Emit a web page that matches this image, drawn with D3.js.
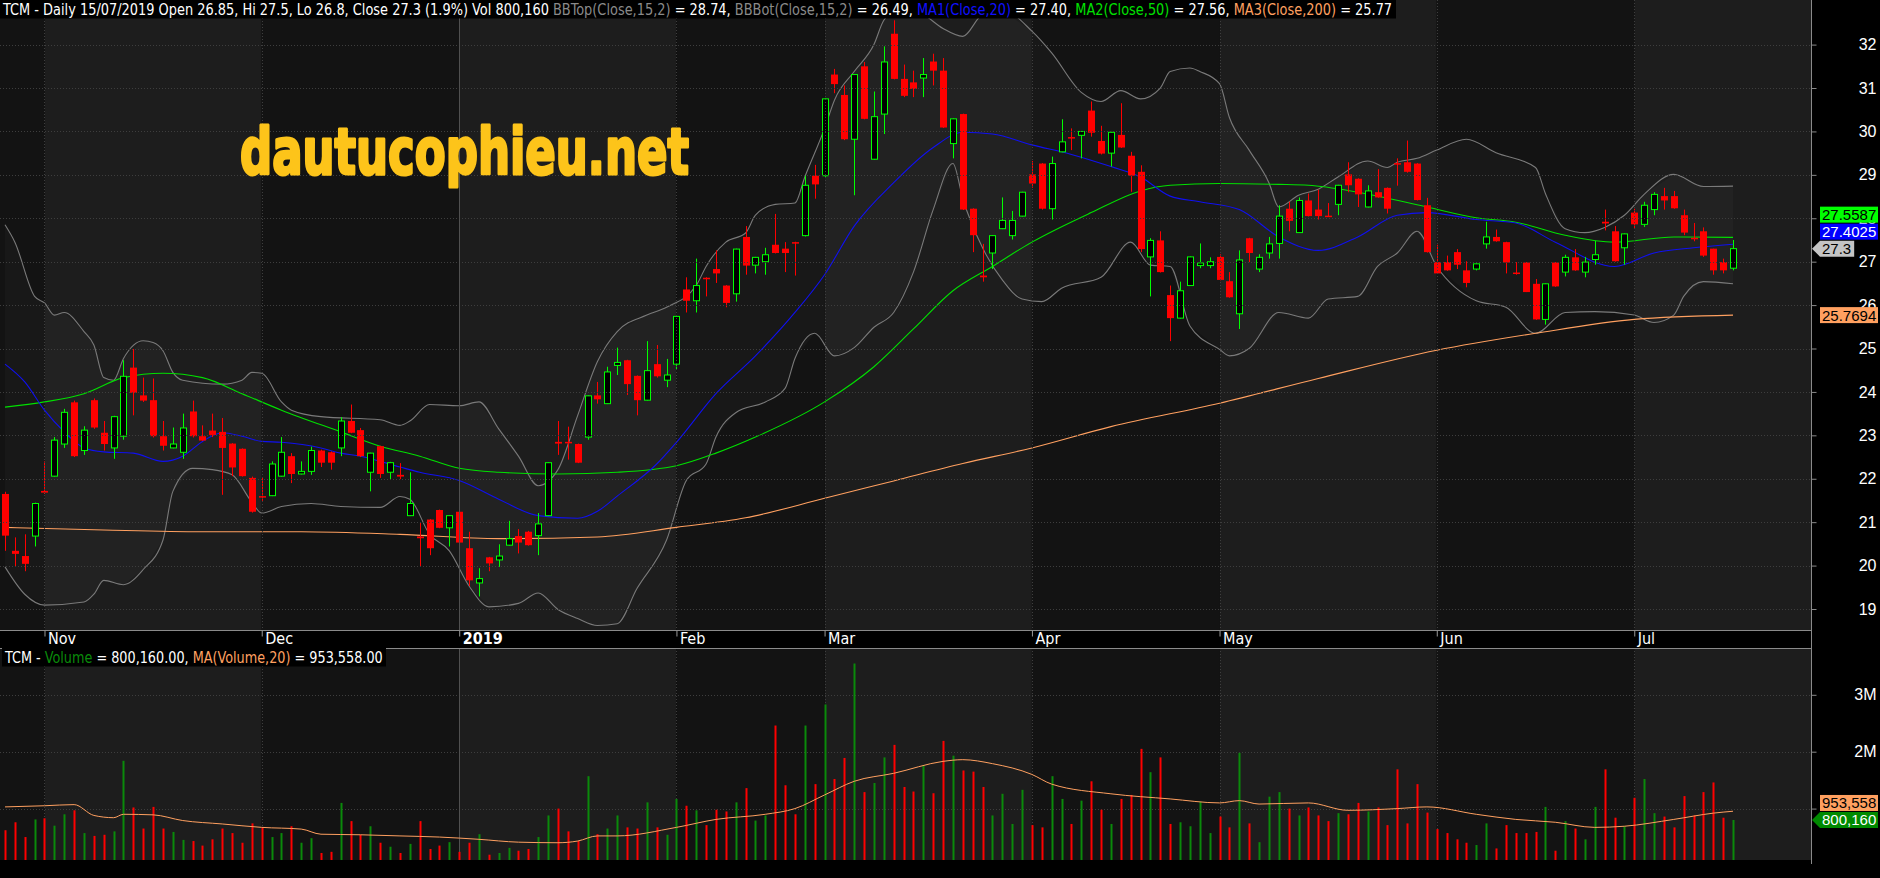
<!DOCTYPE html>
<html>
<head>
<meta charset="utf-8">
<script src="https://cdn.jsdelivr.net/npm/d3@7"></script>
<style>
body { margin: 0; background: #000; }
svg { display: block; }
.nar { font-family: "Liberation Sans Narrow", "Arial Narrow", "DejaVu Sans Condensed", sans-serif; }
.reg { font-family: "Liberation Sans", Arial, sans-serif; }
</style>
</head>
<body>
<div id="chart"></div>
<script>
// months on the time axis, trading days in each, days of Oct shown before Nov
var monthLabels = ["Nov", "Dec", "2019", "Feb", "Mar", "Apr", "May", "Jun", "Jul"];
var monthDays = [22, 20, 22, 15, 21, 19, 22, 20, 11];
var leadDays = 4;

// daily OHLC
var openPx = [21.65,20.34,20.22,20.68,21.72,22.06,22.80,23.76,22.65,23.81,23.06,22.71,22.98,24.56,23.92,23.81,22.98,22.71,22.61,23.55,
  22.98,23.11,23.08,22.81,22.69,22.02,21.60,21.61,22.06,22.52,22.11,22.17,22.65,22.61,22.71,23.33,23.12,22.15,22.75,22.15,
  22.09,21.15,20.67,21.06,21.28,20.87,21.24,20.40,19.60,20.19,20.13,20.47,20.68,20.78,20.69,21.15,22.85,22.85,22.80,22.96,
  23.92,23.73,24.61,24.73,24.37,23.81,24.64,24.27,24.64,26.36,26.10,26.63,26.83,26.45,26.26,27.57,26.92,27.00,27.39,27.30,
  27.45,27.60,28.98,28.98,31.31,30.84,29.82,31.50,29.36,30.40,32.25,31.21,31.13,31.23,31.61,31.40,29.72,30.40,28.22,26.68,
  27.20,27.76,27.60,28.05,29.01,29.26,28.22,29.53,29.87,29.91,30.48,29.78,29.50,29.92,29.44,29.07,27.11,27.49,26.23,25.70,
  26.45,26.91,26.91,27.11,26.55,25.80,27.54,26.83,27.20,27.42,28.22,27.67,28.41,28.20,28.06,28.32,29.01,28.91,28.26,28.60,
  28.70,29.27,29.29,29.26,28.30,26.99,26.99,27.22,26.80,26.83,27.41,27.57,27.45,26.75,26.98,26.49,25.67,26.98,26.76,27.10,
  26.76,27.05,27.92,27.70,27.32,28.13,27.86,28.20,28.51,28.51,28.07,27.55,27.70,27.30,26.99,26.85];
var highPx = [21.70,20.65,20.72,21.45,22.40,22.96,23.61,23.80,23.21,23.85,23.33,23.45,24.73,24.99,24.33,24.31,23.33,23.18,23.50,23.80,
  23.23,23.50,23.40,22.82,22.70,22.05,22.02,22.40,22.96,22.59,22.40,22.74,22.67,22.63,23.42,23.71,23.17,22.60,22.76,22.39,
  22.36,22.15,21.00,21.07,21.29,21.16,21.25,20.78,19.94,20.20,20.49,21.03,20.84,20.80,21.21,22.38,23.33,23.20,22.81,23.92,
  24.23,24.58,25.02,24.74,24.38,25.17,25.08,24.76,25.75,26.64,27.07,26.64,27.26,26.46,27.30,27.82,27.11,27.32,28.10,27.45,
  27.46,28.98,29.23,30.76,31.44,31.06,31.32,31.60,30.92,31.96,32.56,31.54,31.40,31.69,31.79,31.69,30.30,30.41,28.23,27.41,
  27.61,28.48,28.17,28.61,29.32,29.27,29.42,30.28,30.07,30.01,30.69,30.13,29.99,30.65,29.53,29.22,27.54,27.70,26.45,26.54,
  27.12,27.42,27.10,27.17,26.76,27.26,27.55,27.17,27.57,28.30,28.38,28.48,28.57,28.66,28.35,28.77,29.29,28.92,28.76,29.13,
  28.71,29.38,29.79,29.27,28.47,27.39,27.14,27.29,27.01,26.96,27.92,27.74,27.46,26.99,26.99,26.60,26.50,26.99,27.16,27.29,
  27.11,27.48,28.20,27.82,27.65,28.22,28.38,28.60,28.70,28.63,28.20,27.89,27.79,27.30,27.07,27.50];
var lowPx = [20.34,19.97,19.87,20.44,21.65,22.05,22.71,22.50,22.55,23.15,22.65,22.46,22.90,23.46,23.77,22.95,22.65,22.70,22.46,22.95,
  22.87,22.96,21.63,22.06,22.05,21.22,21.49,21.60,22.05,21.90,22.10,22.09,22.27,22.21,22.52,23.05,22.50,21.71,22.02,21.99,
  21.99,21.14,19.97,20.24,20.86,20.44,20.52,19.53,19.29,19.87,19.97,20.46,20.28,20.46,20.24,21.14,22.55,22.44,22.36,22.90,
  23.73,23.72,24.39,23.93,23.46,23.80,24.33,24.11,24.52,25.83,25.83,26.20,26.51,25.95,26.08,26.70,26.73,26.70,27.19,26.76,
  26.68,27.58,28.45,28.95,30.88,29.80,28.53,30.28,29.35,29.94,31.20,30.79,30.79,30.79,31.06,30.08,29.38,28.19,27.22,26.54,
  26.83,27.75,27.51,28.04,28.70,28.20,27.97,29.52,29.57,29.38,29.88,29.47,29.19,29.62,28.61,27.22,26.20,26.75,25.17,25.69,
  26.44,26.85,26.85,26.57,26.17,25.45,26.99,26.76,27.07,27.07,27.70,27.66,28.04,27.97,28.03,28.07,28.60,28.26,28.25,28.47,
  28.11,28.75,29.05,28.41,27.21,26.72,26.79,26.83,26.41,26.80,27.30,27.46,26.73,26.70,26.30,25.66,25.55,26.42,26.66,26.79,
  26.64,26.93,27.72,27.00,26.93,27.76,27.80,28.07,28.20,28.22,27.61,27.47,27.11,26.70,26.73,26.80];
var closePx = [20.69,20.27,20.04,21.43,21.68,22.89,23.53,22.52,23.12,23.18,22.80,23.43,24.36,23.98,23.80,22.98,22.76,22.80,23.17,22.98,
  22.88,23.01,22.71,22.26,22.06,21.24,21.57,22.34,22.61,22.11,22.17,22.65,22.37,22.37,23.33,23.06,22.52,22.59,22.11,22.37,
  22.05,21.43,20.63,20.40,20.87,21.15,20.53,19.66,19.70,20.05,20.22,20.62,20.53,20.47,20.96,22.37,22.81,22.82,22.37,23.91,
  23.83,24.46,24.68,24.18,23.81,24.49,24.36,24.39,25.74,26.10,26.45,26.60,26.73,26.05,27.29,26.91,27.10,27.16,27.20,27.20,
  27.43,28.76,28.78,30.75,31.09,29.82,31.31,30.29,30.34,31.60,31.21,30.82,30.98,31.31,31.40,30.09,30.29,28.20,27.61,26.64,
  27.60,27.95,27.95,28.60,28.80,28.22,29.26,29.76,29.84,30.00,29.97,29.49,29.98,29.63,28.98,27.29,27.49,26.76,25.70,26.33,
  27.11,26.97,27.00,26.58,26.18,27.04,27.20,27.10,27.41,28.05,27.94,28.41,28.05,28.05,28.04,28.76,28.76,28.55,28.63,28.48,
  28.22,29.24,29.07,28.42,27.22,26.73,26.80,26.93,26.51,26.95,27.57,27.47,26.98,26.74,26.30,25.67,26.49,26.43,27.10,26.80,
  26.99,27.16,27.88,27.01,27.64,27.86,28.30,28.55,28.41,28.23,27.67,27.53,27.14,26.80,26.80,27.30];
var volume = [620000,760000,500000,810000,830000,700000,900000,970000,570000,520000,540000,600000,1840000,1020000,650000,1030000,650000,590000,450000,430000,
  350000,460000,650000,570000,400000,740000,670000,500000,570000,690000,400000,480000,220000,240000,1100000,780000,540000,690000,400000,330000,
  220000,380000,780000,290000,350000,410000,240000,400000,550000,190000,220000,310000,260000,290000,500000,880000,1000000,600000,430000,1570000,
  550000,650000,880000,670000,650000,1110000,670000,540000,1170000,1050000,970000,710000,980000,950000,1110000,1360000,790000,880000,2460000,1410000,
  900000,2460000,1430000,2830000,1520000,1890000,3550000,1290000,1450000,1900000,2120000,1380000,1300000,1760000,1270000,2190000,1930000,1670000,1650000,1380000,
  880000,1260000,730000,1330000,710000,670000,1570000,1170000,730000,1140000,1480000,980000,730000,1170000,1240000,2050000,1640000,1900000,730000,760000,
  690000,1120000,570000,860000,670000,1980000,740000,410000,1210000,1290000,1000000,880000,1020000,880000,780000,920000,900000,1100000,950000,1020000,
  710000,1690000,740000,1430000,930000,640000,570000,460000,400000,360000,740000,300000,710000,570000,570000,590000,1030000,260000,780000,650000,
  460000,1030000,1690000,840000,690000,1190000,1520000,920000,860000,670000,1220000,880000,1290000,1460000,840000,800160];

// indicator lines, sampled at trading-day index
var ma20Idx = [0,2,4,6,8,10,13,16,18,20,22,24,26,28,32,34,36,40,42,46,50,54,58,60,62,66,68,72,76,80,83,86,90,94,97,100,104,108,112,115,118,121,125,129,133,137,141,144,149,153,157,163,167,171,175];
var ma20Val = [24.64,24.23,23.58,23.08,22.71,22.62,22.59,22.40,22.52,22.86,23.06,22.98,22.86,22.84,22.71,22.59,22.52,22.27,22.15,21.96,21.53,21.15,21.09,21.25,21.60,22.34,22.84,23.96,24.83,25.83,26.70,27.82,28.82,29.63,29.98,29.94,29.69,29.47,29.19,28.95,28.51,28.38,28.20,27.57,27.26,27.57,28.07,28.13,27.97,27.89,27.45,26.89,27.20,27.32,27.4025];
var ma50Idx = [0,4,8,12,16,20,24,28,34,38,42,46,50,56,62,68,72,76,83,88,92,96,100,104,110,115,118,123,129,132,137,144,149,153,158,163,169,175];
var ma50Val = [23.65,23.77,23.96,24.33,24.43,24.33,23.96,23.58,23.08,22.75,22.52,22.24,22.15,22.11,22.15,22.30,22.59,22.96,23.77,24.58,25.45,26.33,26.89,27.45,28.13,28.63,28.76,28.80,28.78,28.76,28.60,28.26,28.01,27.91,27.61,27.45,27.57,27.5587];
var ma200Idx = [0,10,20,30,40,50,60,68,75,83,90,97,104,112,123,133,145,155,165,175];
var ma200Val = [20.88,20.82,20.78,20.78,20.72,20.62,20.66,20.88,21.10,21.55,21.95,22.35,22.71,23.20,23.74,24.31,24.96,25.35,25.67,25.7694];
var bbTopIdx = [0,1,3,4,5,6,8,9,10,11,12,14,15,16,17,18,22,24,25,26,28,29,32,38,40,41,43,46,48,50,52,54,56,58,60,62,65,67,70,71,73,75,76,78,80,81,83,84,86,88,89,91,93,95,97,99,101,104,106,109,111,113,115,117,118,120,121,123,124,126,128,129,131,133,135,138,140,141,143,145,148,151,155,156,158,160,162,164,166,169,172,175];
var bbTopVal = [27.85,27.45,26.20,26.05,25.77,25.83,25.39,25.08,24.33,24.27,24.77,25.18,25.14,24.95,24.45,24.27,24.18,24.27,24.45,24.43,23.77,23.58,23.43,23.36,23.23,23.33,23.71,23.68,23.77,23.15,22.52,21.84,22.21,23.46,24.70,25.39,25.77,25.95,26.45,26.89,27.45,27.66,28.07,28.32,28.35,28.95,30.07,30.72,31.38,32.00,32.56,32.90,32.70,32.37,32.19,32.70,32.80,32.31,31.81,30.90,30.69,30.94,30.75,31.00,31.38,31.46,31.38,31.10,30.32,29.57,28.82,28.26,28.53,28.67,28.95,29.32,29.17,29.29,29.38,29.57,29.82,29.51,29.17,28.57,27.76,27.67,27.79,28.07,28.55,29.01,28.73,28.74];
var bbBotIdx = [0,2,4,8,9,10,12,14,16,17,19,21,23,25,26,28,31,34,38,40,41,43,45,47,49,52,54,56,58,60,62,64,67,69,71,72,74,77,79,80,82,84,86,88,90,92,94,96,97,99,101,103,105,107,111,114,116,118,120,123,124,126,129,132,134,137,139,141,143,145,149,152,155,158,161,165,167,169,170,172,175];
var bbBotVal = [19.97,19.34,19.09,19.16,19.34,19.66,19.56,19.91,20.59,21.71,22.24,22.21,22.09,21.46,21.21,21.36,21.43,21.36,21.34,21.59,21.53,20.72,20.34,19.53,19.05,19.13,19.37,18.99,18.78,18.62,18.66,19.47,20.59,21.96,22.34,22.96,23.52,23.77,24.08,24.77,25.35,24.83,25.02,25.49,25.83,26.76,28.20,29.26,28.45,27.32,26.58,26.14,26.08,26.39,26.64,27.45,26.92,26.89,25.52,24.98,24.83,25.00,25.83,25.70,26.14,26.20,26.89,27.20,27.70,26.89,26.10,25.95,25.35,25.83,25.85,25.77,25.60,25.77,26.20,26.54,26.49];
var volMaIdx = [0,4,7,9,11,12,15,18,22,26,30,32,36,40,44,48,52,56,58,60,62,68,72,77,80,83,86,90,95,97,100,104,106,112,118,123,125,127,132,136,141,144,149,153,157,161,164,169,173,175];
var volMaVal = [1030000,1050000,1070000,880000,840000,900000,890000,790000,730000,670000,640000,550000,540000,520000,500000,460000,410000,400000,430000,520000,520000,670000,810000,900000,1000000,1240000,1480000,1620000,1830000,1860000,1790000,1600000,1430000,1260000,1170000,1100000,1140000,1080000,1100000,970000,1000000,1030000,900000,810000,760000,670000,690000,810000,920000,953558];

var yTicks = [19,20,21,22,23,24,25,26,27,28,29,30,31,32];
var volTicks = [1000000, 2000000, 3000000];

CandleChart = function(parentId) {
    var vis = this;
    vis.parentId = parentId;
    vis.initVis();
}

CandleChart.prototype.initVis = function() {
    var vis = this;

    vis.width = 1880;
    vis.height = 878;
    vis.plotRight = 1811;
    vis.priceBottom = 630;
    vis.axisBottom = 648;
    vis.volBottom = 860;

    vis.svg = d3.select(vis.parentId)
        .append("svg")
        .attr("width", vis.width)
        .attr("height", vis.height);

    vis.svg.append("rect")
        .attr("width", vis.width)
        .attr("height", vis.height)
        .attr("fill", "#000");

    vis.x = d3.scaleLinear().domain([0, closePx.length - 1]).range([5, 1733]);
    vis.yPrice = d3.scaleLinear().domain([19, 32]).range([609, 44.6]);
    vis.yVol = d3.scaleLinear().domain([0, 3000000]).range([865.5, 694.8]);

    var defs = vis.svg.append("defs");
    defs.append("clipPath").attr("id", "clipPrice")
        .append("rect").attr("width", vis.plotRight).attr("height", vis.priceBottom);
    defs.append("clipPath").attr("id", "clipVol")
        .append("rect").attr("y", vis.axisBottom).attr("width", vis.plotRight)
        .attr("height", vis.volBottom - vis.axisBottom);

    vis.wrangleData();
}

CandleChart.prototype.wrangleData = function() {
    var vis = this;

    vis.bars = closePx.map(function(c, i) {
        return {i: i, o: openPx[i], h: highPx[i], l: lowPx[i], c: c, v: volume[i], up: c >= openPx[i]};
    });

    // first trading day of each month
    vis.monthStarts = [];
    var k = leadDays;
    monthLabels.forEach(function(m, j) {
        vis.monthStarts.push({label: m, idx: k, year: m == "2019"});
        k += monthDays[j];
    });

    function pts(idx, val) {
        return idx.map(function(d, j) { return {i: d, v: val[j]}; });
    }
    vis.ma20 = pts(ma20Idx, ma20Val);
    vis.ma50 = pts(ma50Idx, ma50Val);
    vis.ma200 = pts(ma200Idx, ma200Val);
    vis.bbTop = pts(bbTopIdx, bbTopVal);
    vis.bbBot = pts(bbBotIdx, bbBotVal);
    vis.volMa = pts(volMaIdx, volMaVal);

    vis.updateVis();
}

CandleChart.prototype.updateVis = function() {
    var vis = this;
    var n = vis.bars.length;
    var last = vis.bars[n - 1];

    // month bands
    var edges = [0].concat(vis.monthStarts.map(function(d) { return vis.x(d.idx); }), [vis.plotRight]);
    var bands = d3.range(edges.length - 1).map(function(j) { return {x0: edges[j], x1: edges[j + 1], light: j % 2 == 1}; });
    [[0, vis.priceBottom], [vis.axisBottom, vis.volBottom]].forEach(function(r) {
        vis.svg.append("g").selectAll("rect").data(bands).enter().append("rect")
            .attr("x", function(d) { return d.x0; })
            .attr("y", r[0])
            .attr("width", function(d) { return d.x1 - d.x0; })
            .attr("height", r[1] - r[0])
            .attr("fill", function(d) { return d.light ? "#1d1d1d" : "#131313"; });
    });

    // bollinger fill
    var pg = vis.svg.append("g").attr("clip-path", "url(#clipPrice)");
    var poly = vis.bbTop.concat(vis.bbBot.slice().reverse());
    pg.append("path")
        .attr("d", d3.line().x(function(d) { return vis.x(d.i); }).y(function(d) { return vis.yPrice(d.v); })(poly) + "Z")
        .attr("fill", "rgba(255,255,255,0.022)");

    // grid
    var grid = vis.svg.append("g").attr("stroke", "#3e3e3e").attr("stroke-dasharray", "1,2");
    grid.selectAll(".hp").data(yTicks).enter().append("line")
        .attr("x1", 0).attr("x2", vis.plotRight)
        .attr("y1", function(d) { return Math.round(vis.yPrice(d)) + 0.5; })
        .attr("y2", function(d) { return Math.round(vis.yPrice(d)) + 0.5; });
    grid.selectAll(".hv").data(volTicks).enter().append("line")
        .attr("x1", 0).attr("x2", vis.plotRight)
        .attr("y1", function(d) { return Math.round(vis.yVol(d)) + 0.5; })
        .attr("y2", function(d) { return Math.round(vis.yVol(d)) + 0.5; });
    vis.svg.append("g").selectAll("line").data(vis.monthStarts).enter().append("line")
        .attr("x1", function(d) { return Math.round(vis.x(d.idx)) + 0.5; })
        .attr("x2", function(d) { return Math.round(vis.x(d.idx)) + 0.5; })
        .attr("y1", 0).attr("y2", vis.volBottom)
        .attr("stroke", function(d) { return d.year ? "#505050" : "#3e3e3e"; })
        .attr("stroke-dasharray", function(d) { return d.year ? null : "1,2"; });

    // watermark
    vis.svg.append("text")
        .attr("x", 240).attr("y", 174)
        .attr("font-family", "'DejaVu Sans', sans-serif")
        .attr("font-weight", "bold")
        .attr("font-size", 64)
        .attr("textLength", 449)
        .attr("lengthAdjust", "spacingAndGlyphs")
        .attr("fill", "#fdc41a")
        .attr("stroke", "#fdc41a")
        .attr("stroke-width", 3)
        .attr("stroke-linejoin", "round")
        .text("dautucophieu.net");

    // indicator lines
    var line = d3.line()
        .x(function(d) { return vis.x(d.i); })
        .y(function(d) { return vis.yPrice(d.v); })
        .curve(d3.curveMonotoneX);
    [[vis.bbTop, "#7a7a7a"], [vis.bbBot, "#7a7a7a"], [vis.ma200, "#ffa060"],
     [vis.ma50, "#00e000"], [vis.ma20, "#1010f0"]].forEach(function(s) {
        pg.append("path").attr("d", line(s[0]))
            .attr("fill", "none").attr("stroke", s[1]).attr("stroke-width", 1.1);
    });

    // candles
    var candle = pg.selectAll(".candle").data(vis.bars).enter().append("g").attr("class", "candle");
    candle.append("line")
        .attr("x1", function(d) { return Math.round(vis.x(d.i)) + 0.5; })
        .attr("x2", function(d) { return Math.round(vis.x(d.i)) + 0.5; })
        .attr("y1", function(d) { return vis.yPrice(d.h); })
        .attr("y2", function(d) { return vis.yPrice(d.l); })
        .attr("stroke", function(d) { return d.up ? "#00ff00" : "#ff0000"; });
    candle.append("rect")
        .attr("x", function(d) { return Math.round(vis.x(d.i)) - 3 + (d.up ? 0.5 : 0); })
        .attr("width", function(d) { return d.up ? 6 : 7; })
        .attr("y", function(d) { return vis.yPrice(Math.max(d.o, d.c)); })
        .attr("height", function(d) { return Math.max(1.5, Math.abs(vis.yPrice(d.o) - vis.yPrice(d.c))); })
        .attr("fill", function(d) { return d.up ? "#000" : "#ff0000"; })
        .attr("stroke", function(d) { return d.up ? "#00ff00" : "none"; });

    // volume
    var vg = vis.svg.append("g").attr("clip-path", "url(#clipVol)");
    vg.selectAll(".vbar").data(vis.bars).enter().append("rect")
        .attr("x", function(d) { return Math.round(vis.x(d.i)) - 0.5; })
        .attr("width", 2)
        .attr("y", function(d) { return vis.yVol(d.v); })
        .attr("height", function(d) { return vis.yVol(0) - vis.yVol(d.v); })
        .attr("fill", function(d) { return d.up ? "#0a8a0a" : "#ff0000"; });
    vg.append("path")
        .attr("d", d3.line().x(function(d) { return vis.x(d.i); }).y(function(d) { return vis.yVol(d.v); })
            .curve(d3.curveMonotoneX)(vis.volMa))
        .attr("fill", "none").attr("stroke", "#ffa060").attr("stroke-width", 1);

    // date axis strip
    vis.svg.append("rect").attr("y", vis.priceBottom).attr("width", vis.plotRight)
        .attr("height", vis.axisBottom - vis.priceBottom).attr("fill", "#000");
    [vis.priceBottom, vis.axisBottom].forEach(function(y) {
        vis.svg.append("line").attr("x1", 0).attr("x2", vis.plotRight)
            .attr("y1", y + 0.5).attr("y2", y + 0.5).attr("stroke", "#8a8a8a");
    });
    var xAxis = d3.axisBottom(vis.x)
        .tickValues(vis.monthStarts.map(function(d) { return d.idx; }))
        .tickFormat(function(d, j) { return vis.monthStarts[j].label; })
        .tickSize(6).tickPadding(0);
    var xg = vis.svg.append("g").attr("transform", "translate(0," + (vis.priceBottom + 0.5) + ")").call(xAxis);
    xg.select(".domain").remove();
    xg.selectAll(".tick line").attr("stroke", "#9a9a9a");
    xg.selectAll(".tick text")
        .attr("class", "nar")
        .attr("text-anchor", "start").attr("x", 3).attr("y", 2).attr("dy", "0.71em")
        .attr("font-size", 16).attr("fill", "#fff")
        .attr("font-weight", function(d, j) { return vis.monthStarts[j].year ? "bold" : "normal"; });

    // right axes
    vis.svg.append("line").attr("x1", vis.plotRight + 0.5).attr("x2", vis.plotRight + 0.5)
        .attr("y1", 0).attr("y2", 864).attr("stroke", "#8a8a8a");
    var yAxis = d3.axisRight(vis.yPrice).tickValues(yTicks).tickSize(5).tickFormat(d3.format("d"));
    // the 1M label sits under the volume tags, so only 2M and 3M are written
    var vAxis = d3.axisRight(vis.yVol).tickValues(volTicks).tickSize(5)
        .tickFormat(function(d) { return d > 1000000 ? (d / 1000000) + "M" : ""; });
    [yAxis, vAxis].forEach(function(ax) {
        var g = vis.svg.append("g").attr("transform", "translate(" + (vis.plotRight + 0.5) + ",0)").call(ax);
        g.select(".domain").remove();
        g.selectAll(".tick line").attr("stroke", "#8a8a8a");
        g.selectAll(".tick text").attr("class", "reg").attr("font-size", 16).attr("fill", "#fff")
            .attr("text-anchor", "end").attr("x", 65);
    });

    // value tags at the right edge
    var f4 = d3.format(".4f");
    var priceTags = [
        {v: ma50Val[ma50Val.length - 1], text: f4(ma50Val[ma50Val.length - 1]), bg: "#00ff00", fg: "#000"},
        {v: ma20Val[ma20Val.length - 1], text: f4(ma20Val[ma20Val.length - 1]), bg: "#0000ff", fg: "#fff"},
        {v: last.c, text: String(last.c), bg: "#c4c4c4", fg: "#000", fixed: true},
        {v: ma200Val[ma200Val.length - 1], text: f4(ma200Val[ma200Val.length - 1]), bg: "#ffa060", fg: "#000"}
    ];
    var volTags = [
        {v: volMaVal[volMaVal.length - 1], text: d3.format(",")(volMaVal[volMaVal.length - 1]), bg: "#ffa060", fg: "#000"},
        {v: last.v, text: d3.format(",")(last.v), bg: "#008a00", fg: "#fff", fixed: true}
    ];
    vis.drawTags(priceTags, vis.yPrice);
    vis.drawTags(volTags, vis.yVol);

    // legends
    var bbT = bbTopVal[bbTopVal.length - 1], bbB = bbBotVal[bbBotVal.length - 1];
    var pct = ((last.c / vis.bars[n - 2].c - 1) * 100).toFixed(1);
    vis.legend(3, 15, 1390, [
        ["TCM - Daily 15/07/2019 Open " + last.o + ", Hi " + last.h + ", Lo " + last.l + ", Close " + last.c +
            " (" + pct + "%) Vol " + d3.format(",")(last.v) + " ", "#fff"],
        ["BBTop(Close,15,2)", "#8a8a8a"], [" = " + bbT.toFixed(2) + ", ", "#fff"],
        ["BBBot(Close,15,2)", "#8a8a8a"], [" = " + bbB.toFixed(2) + ", ", "#fff"],
        ["MA1(Close,20)", "#1010ff"], [" = " + ma20Val[ma20Val.length - 1].toFixed(2) + ", ", "#fff"],
        ["MA2(Close,50)", "#00e000"], [" = " + ma50Val[ma50Val.length - 1].toFixed(2) + ", ", "#fff"],
        ["MA3(Close,200)", "#ffa060"], [" = " + ma200Val[ma200Val.length - 1].toFixed(2), "#fff"]
    ]);
    vis.legend(5, 663, 378, [
        ["TCM - ", "#fff"], ["Volume", "#0a8a0a"], [" = " + d3.format(",.2f")(last.v) + ", ", "#fff"],
        ["MA(Volume,20)", "#ffa060"], [" = " + d3.format(",.2f")(volMaVal[volMaVal.length - 1]), "#fff"]
    ]);
}

// one line of coloured text on a black strip, stretched to the width it has in the picture
CandleChart.prototype.legend = function(x, y, len, segs) {
    var vis = this;
    vis.svg.append("rect").attr("fill", "#000")
        .attr("x", x - 3).attr("y", y - 15).attr("width", len + 6).attr("height", 18.5);
    var t = vis.svg.append("text").attr("class", "nar")
        .attr("x", 0).attr("y", 0).attr("font-size", 16)
        .style("white-space", "pre");
    segs.forEach(function(s) {
        t.append("tspan").attr("fill", s[1]).text(s[0]);
    });
    var natural = t.node().getComputedTextLength();
    t.attr("transform", "translate(" + x + "," + y + ") scale(" + (len / natural) + ",1)");
}

CandleChart.prototype.drawTags = function(tags, scale) {
    var vis = this;
    tags.forEach(function(t) { t.cy = scale(t.v); });
    var placed = tags.filter(function(t) { return t.fixed; });
    tags.filter(function(t) { return !t.fixed; })
        .sort(function(a, b) { return b.cy - a.cy; })
        .forEach(function(t) {
            placed.forEach(function(p) {
                if (Math.abs(t.cy - p.cy) < 17) t.cy = p.cy - 17;
            });
            placed.push(t);
        });

    tags.forEach(function(t) {
        var g = vis.svg.append("g");
        var shape = t.fixed ? g.append("polygon") : g.append("rect");
        var txt = g.append("text").attr("class", "reg")
            .attr("x", 1822).attr("y", t.cy + 5.5)
            .attr("font-size", 15).attr("fill", t.fg).text(t.text);
        var w = Math.min(58, txt.node().getComputedTextLength() + 5);
        var top = t.cy - 8, bot = t.cy + 8;
        if (t.fixed) {
            shape.attr("points", [[1812, t.cy], [1820, top], [1820 + w, top], [1820 + w, bot], [1820, bot]].join(" "))
                .attr("fill", t.bg);
        } else {
            shape.attr("x", 1820).attr("y", top).attr("width", w).attr("height", 16).attr("fill", t.bg);
        }
    });
}

var chart = new CandleChart("#chart");
</script>
</body>
</html>
